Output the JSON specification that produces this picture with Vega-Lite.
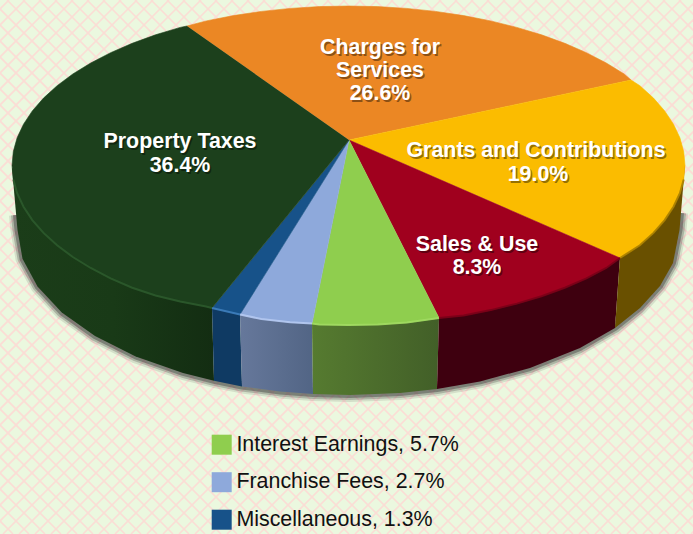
{"$schema":"https://vega.github.io/schema/vega-lite/v6.json","width":693,"height":534,"padding":0,"autosize":{"type":"none"},"background":"#EBF8DF","config":{"view":{"stroke":null}},
"datasets":{
"lattice":[{"a":-537,"b":-3},{"a":-521,"b":13},{"a":-505,"b":29},{"a":-489,"b":45},{"a":-473,"b":61},{"a":-457,"b":77},{"a":-441,"b":93},{"a":-425,"b":109},{"a":-409,"b":125},{"a":-393,"b":141},{"a":-377,"b":157},{"a":-361,"b":173},{"a":-345,"b":189},{"a":-329,"b":205},{"a":-313,"b":221},{"a":-297,"b":237},{"a":-281,"b":253},{"a":-265,"b":269},{"a":-249,"b":285},{"a":-233,"b":301},{"a":-217,"b":317},{"a":-201,"b":333},{"a":-185,"b":349},{"a":-169,"b":365},{"a":-153,"b":381},{"a":-137,"b":397},{"a":-121,"b":413},{"a":-105,"b":429},{"a":-89,"b":445},{"a":-73,"b":461},{"a":-57,"b":477},{"a":-41,"b":493},{"a":-25,"b":509},{"a":-9,"b":525},{"a":7,"b":541},{"a":23,"b":557},{"a":39,"b":573},{"a":55,"b":589},{"a":71,"b":605},{"a":87,"b":621},{"a":103,"b":637},{"a":119,"b":653},{"a":135,"b":669},{"a":151,"b":685},{"a":167,"b":701},{"a":183,"b":717},{"a":199,"b":733},{"a":215,"b":749},{"a":231,"b":765},{"a":247,"b":781},{"a":263,"b":797},{"a":279,"b":813},{"a":295,"b":829},{"a":311,"b":845},{"a":327,"b":861},{"a":343,"b":877},{"a":359,"b":893},{"a":375,"b":909},{"a":391,"b":925},{"a":407,"b":941},{"a":423,"b":957},{"a":439,"b":973},{"a":455,"b":989},{"a":471,"b":1005},{"a":487,"b":1021},{"a":503,"b":1037},{"a":519,"b":1053},{"a":535,"b":1069},{"a":551,"b":1085},{"a":567,"b":1101},{"a":583,"b":1117},{"a":599,"b":1133},{"a":615,"b":1149},{"a":631,"b":1165},{"a":647,"b":1181},{"a":663,"b":1197},{"a":679,"b":1213},{"a":695,"b":1229},
{"a":9,"b":-525},{"a":25,"b":-509},{"a":41,"b":-493},{"a":57,"b":-477},{"a":73,"b":-461},{"a":89,"b":-445},{"a":105,"b":-429},{"a":121,"b":-413},{"a":137,"b":-397},{"a":153,"b":-381},{"a":169,"b":-365},{"a":185,"b":-349},{"a":201,"b":-333},{"a":217,"b":-317},{"a":233,"b":-301},{"a":249,"b":-285},{"a":265,"b":-269},{"a":281,"b":-253},{"a":297,"b":-237},{"a":313,"b":-221},{"a":329,"b":-205},{"a":345,"b":-189},{"a":361,"b":-173},{"a":377,"b":-157},{"a":393,"b":-141},{"a":409,"b":-125},{"a":425,"b":-109},{"a":441,"b":-93},{"a":457,"b":-77},{"a":473,"b":-61},{"a":489,"b":-45},{"a":505,"b":-29},{"a":521,"b":-13},{"a":537,"b":3},{"a":553,"b":19},{"a":569,"b":35},{"a":585,"b":51},{"a":601,"b":67},{"a":617,"b":83},{"a":633,"b":99},{"a":649,"b":115},{"a":665,"b":131},{"a":681,"b":147},{"a":697,"b":163},{"a":713,"b":179},{"a":729,"b":195},{"a":745,"b":211},{"a":761,"b":227},{"a":777,"b":243},{"a":793,"b":259},{"a":809,"b":275},{"a":825,"b":291},{"a":841,"b":307},{"a":857,"b":323},{"a":873,"b":339},{"a":889,"b":355},{"a":905,"b":371},{"a":921,"b":387},{"a":937,"b":403},{"a":953,"b":419},{"a":969,"b":435},{"a":985,"b":451},{"a":1001,"b":467},{"a":1017,"b":483},{"a":1033,"b":499},{"a":1049,"b":515},{"a":1065,"b":531},{"a":1081,"b":547},{"a":1097,"b":563},{"a":1113,"b":579},{"a":1129,"b":595},{"a":1145,"b":611},{"a":1161,"b":627},{"a":1177,"b":643},{"a":1193,"b":659},{"a":1209,"b":675},{"a":1225,"b":691}],
"edge":[{"i":0,"x":16,"y":215},{"i":1,"x":17.5,"y":230},{"i":2,"x":22.5,"y":258.7},{"i":3,"x":37.5,"y":286.4},{"i":4,"x":61.8,"y":312.5},{"i":5,"x":95,"y":336.1},{"i":6,"x":135.7,"y":356.4},{"i":7,"x":183,"y":372.9},{"i":8,"x":214,"y":380.8},{"i":9,"x":242,"y":386.5},{"i":10,"x":280,"y":391.4},{"i":11,"x":313,"y":394},{"i":12,"x":350,"y":395},{"i":13,"x":400,"y":393},{"i":14,"x":437,"y":389},{"i":15,"x":480,"y":381.4},{"i":16,"x":530,"y":368},{"i":17,"x":580,"y":348},{"i":18,"x":615,"y":328},{"i":19,"x":640,"y":308},{"i":20,"x":660,"y":286},{"i":21,"x":673,"y":263},{"i":22,"x":679.5,"y":230},{"i":23,"x":681,"y":213}],
"wall":[
{"name":"Property","i":0,"x":212,"y":307},{"name":"Property","i":1,"x":214,"y":380.8},{"name":"Property","i":2,"x":183,"y":372.9},{"name":"Property","i":3,"x":135.7,"y":356.4},{"name":"Property","i":4,"x":95,"y":336.1},{"name":"Property","i":5,"x":61.8,"y":312.5},{"name":"Property","i":6,"x":37.5,"y":286.4},{"name":"Property","i":7,"x":22.5,"y":258.7},{"name":"Property","i":8,"x":17.5,"y":230},{"name":"Property","i":9,"x":12,"y":168},
{"name":"Misc","i":0,"x":240,"y":314},{"name":"Misc","i":1,"x":242,"y":386.5},{"name":"Misc","i":2,"x":214,"y":380.8},{"name":"Misc","i":3,"x":212,"y":307},
{"name":"Franchise","i":0,"x":312,"y":323},{"name":"Franchise","i":1,"x":313,"y":394},{"name":"Franchise","i":2,"x":280,"y":391.4},{"name":"Franchise","i":3,"x":242,"y":386.5},{"name":"Franchise","i":4,"x":240,"y":314},
{"name":"Interest","i":0,"x":439,"y":317},{"name":"Interest","i":1,"x":437,"y":389},{"name":"Interest","i":2,"x":400,"y":393},{"name":"Interest","i":3,"x":350,"y":395},{"name":"Interest","i":4,"x":313,"y":394},{"name":"Interest","i":5,"x":312,"y":323},
{"name":"Sales","i":0,"x":620,"y":257},{"name":"Sales","i":1,"x":615,"y":328},{"name":"Sales","i":2,"x":580,"y":348},{"name":"Sales","i":3,"x":530,"y":368},{"name":"Sales","i":4,"x":480,"y":381.4},{"name":"Sales","i":5,"x":437,"y":389},{"name":"Sales","i":6,"x":439,"y":317},
{"name":"Grants","i":0,"x":685,"y":165},{"name":"Grants","i":1,"x":679.5,"y":230},{"name":"Grants","i":2,"x":673,"y":263},{"name":"Grants","i":3,"x":660,"y":286},{"name":"Grants","i":4,"x":640,"y":308},{"name":"Grants","i":5,"x":615,"y":328},{"name":"Grants","i":6,"x":620,"y":257}],
"top":[
{"name":"Charges for Services, 26.6%","i":0,"x":349,"y":140},{"name":"Charges for Services, 26.6%","i":1,"x":187,"y":26},{"name":"Charges for Services, 26.6%","i":2,"x":206.3,"y":20.9},{"name":"Charges for Services, 26.6%","i":3,"x":233.4,"y":15.6},{"name":"Charges for Services, 26.6%","i":4,"x":261.4,"y":11.4},{"name":"Charges for Services, 26.6%","i":5,"x":290.1,"y":8.4},{"name":"Charges for Services, 26.6%","i":6,"x":319.2,"y":6.6},{"name":"Charges for Services, 26.6%","i":7,"x":348.5,"y":6},{"name":"Charges for Services, 26.6%","i":8,"x":377.8,"y":6.6},{"name":"Charges for Services, 26.6%","i":9,"x":406.9,"y":8.4},{"name":"Charges for Services, 26.6%","i":10,"x":435.6,"y":11.4},{"name":"Charges for Services, 26.6%","i":11,"x":463.6,"y":15.6},{"name":"Charges for Services, 26.6%","i":12,"x":490.7,"y":20.9},{"name":"Charges for Services, 26.6%","i":13,"x":516.8,"y":27.4},{"name":"Charges for Services, 26.6%","i":14,"x":541.5,"y":34.8},{"name":"Charges for Services, 26.6%","i":15,"x":564.8,"y":43.3},{"name":"Charges for Services, 26.6%","i":16,"x":586.4,"y":52.7},{"name":"Charges for Services, 26.6%","i":17,"x":606.3,"y":63},{"name":"Charges for Services, 26.6%","i":18,"x":624.2,"y":74},{"name":"Charges for Services, 26.6%","i":19,"x":631,"y":80},
{"name":"Grants and Contributions, 19.0%","i":0,"x":349,"y":140},{"name":"Grants and Contributions, 19.0%","i":1,"x":631,"y":80},{"name":"Grants and Contributions, 19.0%","i":2,"x":639.9,"y":85.7},{"name":"Grants and Contributions, 19.0%","i":3,"x":653.5,"y":98.1},{"name":"Grants and Contributions, 19.0%","i":4,"x":664.7,"y":110.9},{"name":"Grants and Contributions, 19.0%","i":5,"x":673.5,"y":124.2},{"name":"Grants and Contributions, 19.0%","i":6,"x":679.9,"y":137.8},{"name":"Grants and Contributions, 19.0%","i":7,"x":683.7,"y":151.6},{"name":"Grants and Contributions, 19.0%","i":8,"x":685,"y":165.5},{"name":"Grants and Contributions, 19.0%","i":9,"x":683.7,"y":179.4},{"name":"Grants and Contributions, 19.0%","i":10,"x":679.9,"y":193.2},{"name":"Grants and Contributions, 19.0%","i":11,"x":673.5,"y":206.8},{"name":"Grants and Contributions, 19.0%","i":12,"x":664.7,"y":220.1},{"name":"Grants and Contributions, 19.0%","i":13,"x":653.5,"y":232.9},{"name":"Grants and Contributions, 19.0%","i":14,"x":639.9,"y":245.3},{"name":"Grants and Contributions, 19.0%","i":15,"x":620,"y":258},
{"name":"Sales & Use, 8.3%","i":0,"x":349,"y":140},{"name":"Sales & Use, 8.3%","i":1,"x":620,"y":258},{"name":"Sales & Use, 8.3%","i":2,"x":606.3,"y":268},{"name":"Sales & Use, 8.3%","i":3,"x":586.4,"y":278.3},{"name":"Sales & Use, 8.3%","i":4,"x":564.8,"y":287.7},{"name":"Sales & Use, 8.3%","i":5,"x":541.5,"y":296.2},{"name":"Sales & Use, 8.3%","i":6,"x":516.8,"y":303.6},{"name":"Sales & Use, 8.3%","i":7,"x":490.7,"y":310.1},{"name":"Sales & Use, 8.3%","i":8,"x":463.6,"y":315.4},{"name":"Sales & Use, 8.3%","i":9,"x":439,"y":318},
{"name":"Interest Earnings, 5.7%","i":0,"x":349,"y":140},{"name":"Interest Earnings, 5.7%","i":1,"x":439,"y":318},{"name":"Interest Earnings, 5.7%","i":2,"x":406.9,"y":322.6},{"name":"Interest Earnings, 5.7%","i":3,"x":377.8,"y":324.4},{"name":"Interest Earnings, 5.7%","i":4,"x":348.5,"y":325},{"name":"Interest Earnings, 5.7%","i":5,"x":319.2,"y":324.4},{"name":"Interest Earnings, 5.7%","i":6,"x":312,"y":323.5},
{"name":"Franchise Fees, 2.7%","i":0,"x":349,"y":140},{"name":"Franchise Fees, 2.7%","i":1,"x":312,"y":323.5},{"name":"Franchise Fees, 2.7%","i":2,"x":290.1,"y":322.2},{"name":"Franchise Fees, 2.7%","i":3,"x":261.4,"y":319},{"name":"Franchise Fees, 2.7%","i":4,"x":240,"y":314.5},
{"name":"Miscellaneous, 1.3%","i":0,"x":349,"y":140},{"name":"Miscellaneous, 1.3%","i":1,"x":240,"y":314.5},{"name":"Miscellaneous, 1.3%","i":2,"x":212,"y":308},
{"name":"Property Taxes, 36.4%","i":0,"x":349,"y":140},{"name":"Property Taxes, 36.4%","i":1,"x":212,"y":308},{"name":"Property Taxes, 36.4%","i":2,"x":206,"y":306.5},{"name":"Property Taxes, 36.4%","i":3,"x":180.2,"y":301.5},{"name":"Property Taxes, 36.4%","i":4,"x":155.5,"y":295.5},{"name":"Property Taxes, 36.4%","i":5,"x":132.2,"y":287.7},{"name":"Property Taxes, 36.4%","i":6,"x":110.6,"y":278.3},{"name":"Property Taxes, 36.4%","i":7,"x":90.7,"y":268},{"name":"Property Taxes, 36.4%","i":8,"x":72.8,"y":257},{"name":"Property Taxes, 36.4%","i":9,"x":57.1,"y":245.3},{"name":"Property Taxes, 36.4%","i":10,"x":43.5,"y":232.9},{"name":"Property Taxes, 36.4%","i":11,"x":32.3,"y":220.1},{"name":"Property Taxes, 36.4%","i":12,"x":23.5,"y":206.8},{"name":"Property Taxes, 36.4%","i":13,"x":17.1,"y":193.2},{"name":"Property Taxes, 36.4%","i":14,"x":13.3,"y":179.4},{"name":"Property Taxes, 36.4%","i":15,"x":12,"y":165.5},{"name":"Property Taxes, 36.4%","i":16,"x":13.3,"y":151.6},{"name":"Property Taxes, 36.4%","i":17,"x":17.1,"y":137.8},{"name":"Property Taxes, 36.4%","i":18,"x":23.5,"y":124.2},{"name":"Property Taxes, 36.4%","i":19,"x":32.3,"y":110.9},{"name":"Property Taxes, 36.4%","i":20,"x":43.5,"y":98.1},{"name":"Property Taxes, 36.4%","i":21,"x":57.1,"y":85.7},{"name":"Property Taxes, 36.4%","i":22,"x":72.8,"y":74},{"name":"Property Taxes, 36.4%","i":23,"x":90.7,"y":63},{"name":"Property Taxes, 36.4%","i":24,"x":110.6,"y":52.7},{"name":"Property Taxes, 36.4%","i":25,"x":132.2,"y":43.3},{"name":"Property Taxes, 36.4%","i":26,"x":155.5,"y":34.8},{"name":"Property Taxes, 36.4%","i":27,"x":180.2,"y":27.4},{"name":"Property Taxes, 36.4%","i":28,"x":187,"y":26}],
"labels":[{"t":"Property Taxes","x":180,"y":142},{"t":"36.4%","x":180,"y":166},{"t":"Charges for","x":380,"y":48},{"t":"Services","x":380,"y":71},{"t":"26.6%","x":380,"y":94},{"t":"Grants and Contributions","x":536,"y":151},{"t":"19.0%","x":538,"y":175},{"t":"Sales & Use","x":477,"y":245},{"t":"8.3%","x":477,"y":268}]
},
"encoding":{"x":{"field":"x","type":"quantitative","scale":{"domain":[0,693],"nice":false,"zero":false},"axis":null},"y":{"field":"y","type":"quantitative","scale":{"domain":[534,0],"nice":false,"zero":false},"axis":null}},
"resolve":{"scale":{"stroke":"independent"}},
"layer":[
{"data":{"name":"lattice"},"transform":[{"calculate":"datum.a","as":"k"},{"fold":["a","b"],"as":["end","x"]},{"calculate":"datum.end=='a'?0:534","as":"y"}],"mark":{"type":"line","stroke":"#FBDDD5","strokeWidth":1.6,"clip":true},"encoding":{"detail":{"field":"k"},"order":{"field":"y"}}},
{"data":{"name":"edge"},"mark":{"type":"line","stroke":"#333333","strokeWidth":14,"opacity":0.12,"strokeJoin":"round"},"encoding":{"order":{"field":"i"}}},
{"data":{"name":"edge"},"mark":{"type":"line","stroke":"#333333","strokeWidth":10,"opacity":0.25,"strokeJoin":"round"},"encoding":{"order":{"field":"i"}}},
{"data":{"name":"edge"},"mark":{"type":"line","stroke":"#333333","strokeWidth":6,"opacity":0.4,"strokeJoin":"round"},"encoding":{"order":{"field":"i"}}},
{"data":{"name":"wall"},"transform":[{"filter":"datum.name=='Property'"}],"mark":{"type":"line","stroke":null,"fill":{"gradient":"linear","x1":0,"x2":1,"y1":0,"y2":0,"stops":[{"offset":0,"color":"#1B3D19"},{"offset":0.5,"color":"#193A17"},{"offset":1,"color":"#132D12"}]}},"encoding":{"order":{"field":"i"}}},
{"data":{"name":"wall"},"transform":[{"filter":"datum.name=='Misc'"}],"mark":{"type":"line","stroke":null,"fill":"#0F3A63"},"encoding":{"order":{"field":"i"}}},
{"data":{"name":"wall"},"transform":[{"filter":"datum.name=='Franchise'"}],"mark":{"type":"line","stroke":null,"fill":{"gradient":"linear","x1":0,"x2":1,"y1":0,"y2":0,"stops":[{"offset":0,"color":"#66789B"},{"offset":1,"color":"#526585"}]}},"encoding":{"order":{"field":"i"}}},
{"data":{"name":"wall"},"transform":[{"filter":"datum.name=='Interest'"}],"mark":{"type":"line","stroke":null,"fill":{"gradient":"linear","x1":0,"x2":1,"y1":0,"y2":0,"stops":[{"offset":0,"color":"#567B30"},{"offset":1,"color":"#425F28"}]}},"encoding":{"order":{"field":"i"}}},
{"data":{"name":"wall"},"transform":[{"filter":"datum.name=='Sales'"}],"mark":{"type":"line","stroke":null,"fill":"#3E000F"},"encoding":{"order":{"field":"i"}}},
{"data":{"name":"wall"},"transform":[{"filter":"datum.name=='Grants'"}],"mark":{"type":"line","stroke":null,"fill":"#695000"},"encoding":{"order":{"field":"i"}}},
{"data":{"name":"top"},"mark":{"type":"line","strokeWidth":0.6},"encoding":{"order":{"field":"i"},
"fill":{"field":"name","type":"nominal","scale":{"domain":["Property Taxes, 36.4%","Charges for Services, 26.6%","Grants and Contributions, 19.0%","Sales & Use, 8.3%","Interest Earnings, 5.7%","Franchise Fees, 2.7%","Miscellaneous, 1.3%"],"range":["#1C401C","#EB8724","#FBBC00","#A0001E","#8FCE4E","#8EA9DB","#175289"]},
"legend":{"values":["Interest Earnings, 5.7%","Franchise Fees, 2.7%","Miscellaneous, 1.3%"],"title":null,"orient":"none","legendX":211,"legendY":434,"padding":0,"symbolType":"square","symbolSize":400,"symbolStrokeWidth":0,"labelFont":"Liberation Sans","labelFontSize":21.4,"labelColor":"#111111","labelOffset":4,"rowPadding":14.5,"labelLimit":400}},
"stroke":{"field":"name","type":"nominal","legend":null,"scale":{"domain":["Property Taxes, 36.4%","Charges for Services, 26.6%","Grants and Contributions, 19.0%","Sales & Use, 8.3%","Interest Earnings, 5.7%","Franchise Fees, 2.7%","Miscellaneous, 1.3%"],"range":["#1C401C","#EB8724","#FBBC00","#A0001E","#8FCE4E","#8EA9DB","#175289"]}}}},
{"data":{"name":"top"},"transform":[{"filter":"datum.y>172"}],"mark":{"type":"line","strokeWidth":2,"opacity":0.9},"encoding":{"order":{"field":"i"},"stroke":{"field":"name","type":"nominal","legend":null,"scale":{"domain":["Property Taxes, 36.4%","Grants and Contributions, 19.0%","Sales & Use, 8.3%","Interest Earnings, 5.7%","Franchise Fees, 2.7%","Miscellaneous, 1.3%"],"range":["#2C5A2C","#A88000","#7A0018","#A2DC63","#B6CAF2","#3F7FBE"]}}}},
{"data":{"name":"labels"},"mark":{"type":"text","font":"Liberation Sans","fontWeight":"bold","fontSize":21.4,"color":"#000000","opacity":0.4,"dx":1.5,"dy":2},"encoding":{"text":{"field":"t"}}},
{"data":{"name":"labels"},"mark":{"type":"text","font":"Liberation Sans","fontWeight":"bold","fontSize":21.4,"color":"#FFFFFF"},"encoding":{"text":{"field":"t"}}}
]}
